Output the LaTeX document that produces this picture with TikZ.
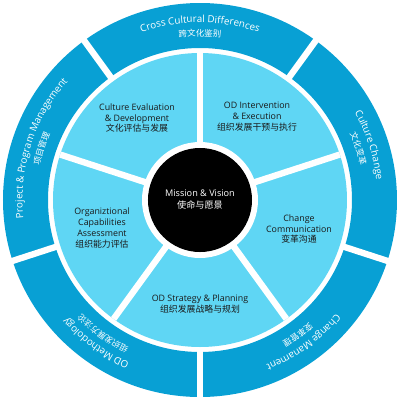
\documentclass[tikz,border=0pt]{standalone}
\usepackage{fontspec}
\usepackage{xcolor}
\setmainfont{Open Sans}
\newfontfamily\cjk{Noto Sans CJK SC}
\usetikzlibrary{decorations.text}
\definecolor{ringcolor}{RGB}{8,160,212}
\definecolor{segmentcolor}{RGB}{95,214,244}
\definecolor{labelcolor}{RGB}{25,25,25}
\tikzset{
    seglabel/.style={align=center, text=labelcolor, inner sep=0pt, font=\fontsize{6.3}{7.8}\selectfont},
    gapline/.style={draw=white, line width=4.5pt},
}
\newcommand{\ringlabel}[3]{%
    \path[decorate, decoration={text along path, text align=center,
        text={|\color{white}\fontsize{7}{7}\selectfont|#2}}]
        (#1+34:177.5) arc[start angle=#1+34, end angle=#1-34, radius=177.5];
    \path[decorate, decoration={text along path, text align=center,
        text={|\color{white}\cjk\fontsize{6}{6}\selectfont|#3}}]
        (#1+34:164) arc[start angle=#1+34, end angle=#1-34, radius=164];
}

\begin{document}
\begin{tikzpicture}[scale=0.025]
    \useasboundingbox (-200,-200) rectangle (200,200);
    \fill[ringcolor, even odd rule] (0,0) circle (197) (0,0) circle (152);
    \foreach \a in {126,54,-18,-90,-162}
        \draw[gapline] (\a:148) -- (\a:200);
    \fill[segmentcolor] (0,0) circle (147);
    \foreach \a in {90,18,-54,-126,162}
        \draw[gapline] (0,0) -- (\a:147);
    \fill[white] (0,0) circle (58);
    \node[circle, fill=black, minimum size=2.6cm, text=white, align=center,
        font=\fontsize{6.5}{8.5}\selectfont] (mission) at (0,0) {Mission \& Vision\\{\cjk 使命与愿景}};

    \node[seglabel] (evaluation) at (-63,82) {Culture Evaluation\\\& Development\\{\cjk 文化评估与发展}};
    \node[seglabel] (intervention) at (57,83) {OD Intervention\\\& Execution\\{\cjk 组织发展干预与执行}};
    \node[seglabel] (communication) at (99,-29) {Change\\Communication\\{\cjk 变革沟通}};
    \node[seglabel] (strategy) at (0,-104) {OD Strategy \& Planning\\{\cjk 组织发展战略与规划}};
    \node[seglabel] (capabilities) at (-98,-28) {Organiztional\\Capabilities\\Assessment\\{\cjk 组织能力评估}};

    \ringlabel{90}{Cross Cultural Differences}{跨文化鉴别}
    \ringlabel{18}{Culture Change}{文化变革}
    \ringlabel{-54}{Change Manament}{变革管理}
    \ringlabel{-126}{OD Methodology}{组织发展方法论}
    \ringlabel{162}{Project {\&} Program Management}{项目管理}
\end{tikzpicture}
\end{document}
